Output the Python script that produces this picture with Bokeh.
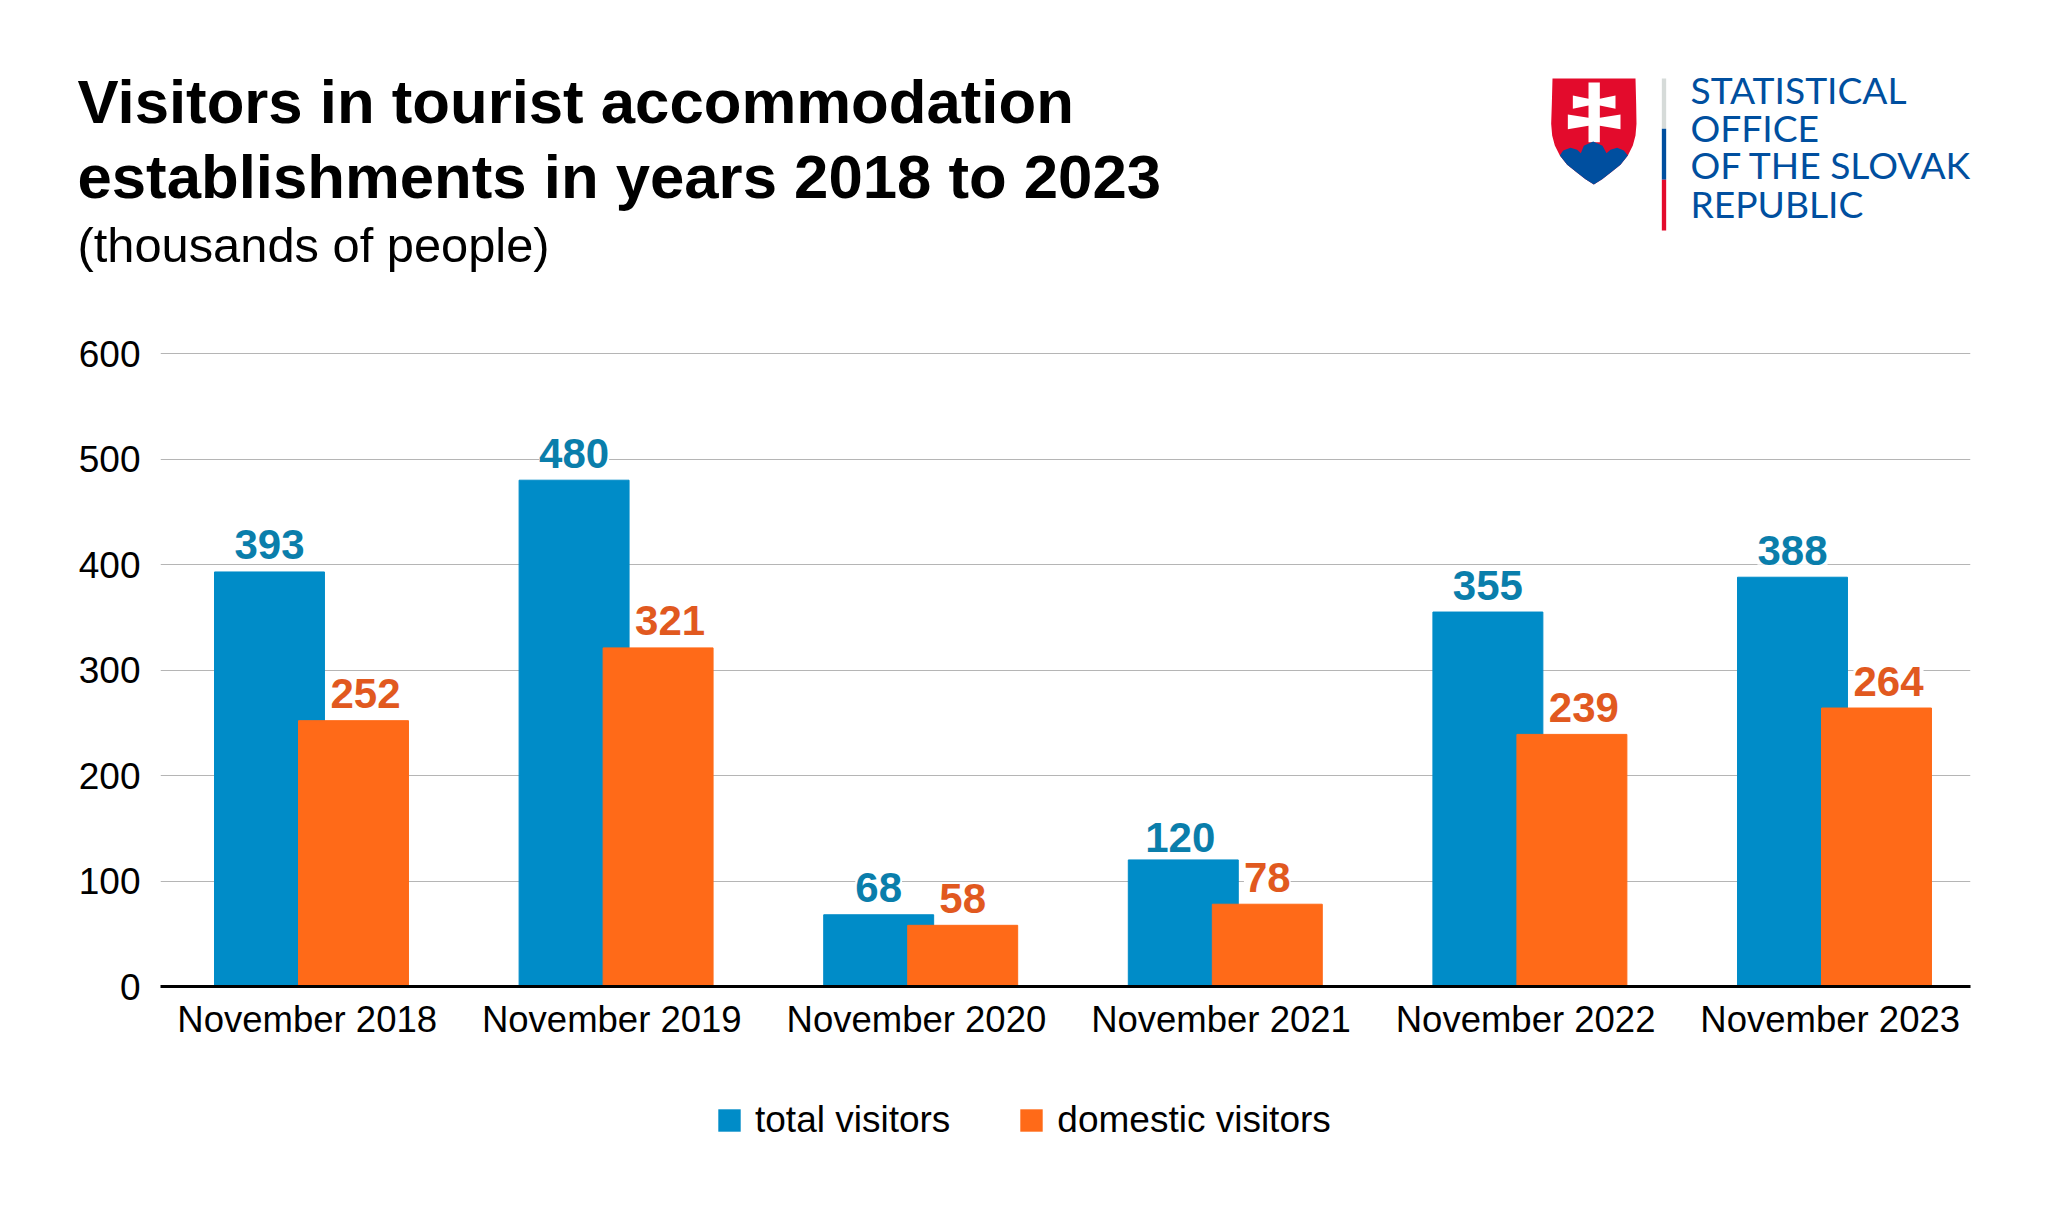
from bokeh.plotting import figure
from bokeh.layouts import column
from bokeh.models import (ColumnDataSource, FixedTicker, Label, Legend, LegendItem,
                          Range1d)
from bokeh.core.properties import value
from bokeh.embed import file_html
from bokeh.resources import INLINE
import numpy as np

categories = ["November 2018", "November 2019", "November 2020",
              "November 2021", "November 2022", "November 2023"]
total_visitors = [393, 480, 68, 120, 355, 388]
domestic_visitors = [252, 321, 58, 78, 239, 264]
y_ticks = [0, 100, 200, 300, 400, 500, 600]
title_lines = ["Visitors in tourist accommodation",
               "establishments in years 2018 to 2023"]
subtitle = "(thousands of people)"
logo_lines = ["STATISTICAL", "OFFICE", "OF THE SLOVAK", "REPUBLIC"]
series_names = ["total visitors", "domestic visitors"]

FONT = "Liberation Sans"
BLUE, ORANGE = "#008cc8", "#ff6a18"
BLUE_T, ORANGE_T = "#0a7eab", "#e1591f"
WIDTH, HEADER_H, MAIN_H, LEGEND_H = 2040, 328, 722, 150

# ---- header: title block and logo, in page pixels
h = figure(width=WIDTH, height=HEADER_H, output_backend="svg", toolbar_location=None,
           x_range=Range1d(0, WIDTH), y_range=Range1d(HEADER_H, 0),
           min_border=0, outline_line_color=None, frame_align=False)
h.axis.visible = False
h.grid.visible = False

def lab(text, px, py, size, style="normal", color="#000000", font=FONT):
    # the SVG backend sets an "alphabetic" anchor about 0.375 em low
    h.add_layout(Label(x=px, y=py - 0.375 * size, text=text, text_font=font,
                       text_font_size=f"{size}px", text_font_style=style, text_color=color,
                       text_baseline="alphabetic", text_align="left"))

lab(title_lines[0], 77, 124, 61.7, "bold")
lab(title_lines[1], 77, 199, 61.7, "bold")
lab(subtitle, 77, 263, 48.8)

LOGO = "#004f9f"
for line, base in zip(logo_lines, [103, 141, 178, 217]):
    lab(line, 1690, base, 37.2, color=LOGO, font="Lato")

def poly(xs, ys, color):
    h.patch([1520 + a / 3 for a in xs], [60 + a / 3 for a in ys],
            fill_color=color, line_color=None)

shield_x = [96, 345, 347, 348, 345, 337, 322, 300, 270, 245, 220, 195, 170, 140, 118, 103, 95, 92, 94]
shield_y = [54, 54, 130, 190, 225, 255, 285, 313, 337, 356, 372, 356, 337, 313, 285, 255, 225, 190, 130]
poly(shield_x, shield_y, "#e30b2c")
cross_x = [204, 238, 238, 285, 285, 238, 238, 300, 300, 238, 238, 204, 204, 142, 142, 204, 204, 157, 157, 204]
cross_y = [66, 66, 115, 105, 145, 135, 172, 162, 206, 196, 245, 245, 196, 206, 162, 172, 135, 145, 105, 115]
poly(cross_x, cross_y, "#ffffff")
hill_x = [118, 128, 150, 170, 181, 190, 218, 246, 258, 270, 290, 310, 322, 300, 270, 245, 220, 195, 170, 140]
hill_y = [285, 270, 262, 268, 278, 256, 243, 256, 278, 268, 262, 270, 285, 313, 337, 356, 372, 356, 337, 313]
poly(hill_x, hill_y, LOGO)
bar_x = [424, 437, 437, 424]
poly(bar_x, [54, 54, 205, 205], "#d6dbd9")
poly(bar_x, [205, 205, 358, 358], LOGO)
poly(bar_x, [358, 358, 510, 510], "#e30b2c")

# ---- chart
x = np.arange(len(categories))
OFF_B, OFF_O = -0.1238, 0.152
BW = 0.361
# wide orange labels step aside from the blue bar; "120" steps aside from "78"
dl_shift = [12 if v >= 100 else 0 for v in domestic_visitors]
tl_shift = [-3 if t == 120 else 0 for t in total_visitors]
tl_rise = [-22 if t == 120 else -27 for t in total_visitors]
src = ColumnDataSource(dict(
    xb=x + OFF_B, xo=x + OFF_O, total=total_visitors, domestic=domestic_visitors,
    tl=[str(v) for v in total_visitors], dl=[str(v) for v in domestic_visitors],
    ds=dl_shift, ts=tl_shift, tr=tl_rise))

p = figure(width=WIDTH, height=MAIN_H, output_backend="svg", toolbar_location=None,
           x_range=Range1d(-0.4816, 5.4606), y_range=Range1d(0, 602),
           min_border_left=160, min_border_right=70, min_border_top=23,
           min_border_bottom=64, outline_line_color=None, background_fill_color="white",
           frame_align=False)
p.xgrid.visible = False
p.ygrid.ticker = FixedTicker(ticks=y_ticks)
p.ygrid.grid_line_color = "#b5b5b5"
p.ygrid.grid_line_width = 1

p.yaxis.ticker = FixedTicker(ticks=y_ticks)
p.yaxis.axis_line_color = None
p.yaxis.major_tick_line_color = None
p.yaxis.minor_tick_line_color = None
p.yaxis.major_label_text_font = FONT
p.yaxis.major_label_text_font_size = "37px"
p.yaxis.major_label_text_color = "#000000"
p.yaxis.major_label_standoff = 14

p.xaxis.ticker = FixedTicker(ticks=list(range(len(categories))))
p.xaxis.major_label_overrides = {i: c for i, c in enumerate(categories)}
p.xaxis.axis_line_color = "#000000"
p.xaxis.axis_line_width = 3
p.xaxis.major_tick_line_color = None
p.xaxis.minor_tick_line_color = None
p.xaxis.major_label_text_font = FONT
p.xaxis.major_label_text_font_size = "36.5px"
p.xaxis.major_label_text_color = "#000000"
p.xaxis.major_label_standoff = 6

p.vbar(x="xb", top="total", width=BW, bottom=0, source=src, fill_color=BLUE,
       line_color=BLUE, line_width=1)
p.vbar(x="xo", top="domestic", width=BW, bottom=0, source=src, fill_color=ORANGE,
       line_color=ORANGE, line_width=1)

p.text(x="xb", y="total", text="tl", source=src, text_font=value(FONT), text_font_style="bold",
       text_font_size=value("42px"), text_color=BLUE_T, text_align="center",
       text_baseline="alphabetic", y_offset="tr", x_offset="ts", background_fill_color="white")
p.text(x="xo", y="domestic", text="dl", source=src, text_font=value(FONT), text_font_style="bold",
       text_font_size=value("42px"), text_color=ORANGE_T, text_align="center",
       text_baseline="alphabetic", y_offset=-27, x_offset="ds", background_fill_color="white")

# ---- legend strip; its two keys are off-range so that only the legend shows
l = figure(width=WIDTH, height=LEGEND_H, output_backend="svg", toolbar_location=None,
           x_range=Range1d(0, 1), y_range=Range1d(0, 1), min_border=0,
           outline_line_color=None, frame_align=False)
l.axis.visible = False
l.grid.visible = False
k1 = l.vbar(x=[5], top=[5], bottom=[4], width=1, fill_color=BLUE, line_color=None)
k2 = l.vbar(x=[5], top=[5], bottom=[4], width=1, fill_color=ORANGE, line_color=None)
legend = Legend(items=[LegendItem(label=series_names[0], renderers=[k1]),
                       LegendItem(label=series_names[1], renderers=[k2])],
                orientation="horizontal", location=(715, 59), border_line_color=None,
                background_fill_alpha=0, padding=0, margin=0, spacing=67, label_standoff=12,
                glyph_width=28, glyph_height=28, label_text_font=FONT,
                label_text_font_size="37px", label_text_color="#000000",
                label_height=28)
l.add_layout(legend, "center")

layout = column(h, p, l, spacing=0)
open("out.html", "w").write(file_html(layout, INLINE))
